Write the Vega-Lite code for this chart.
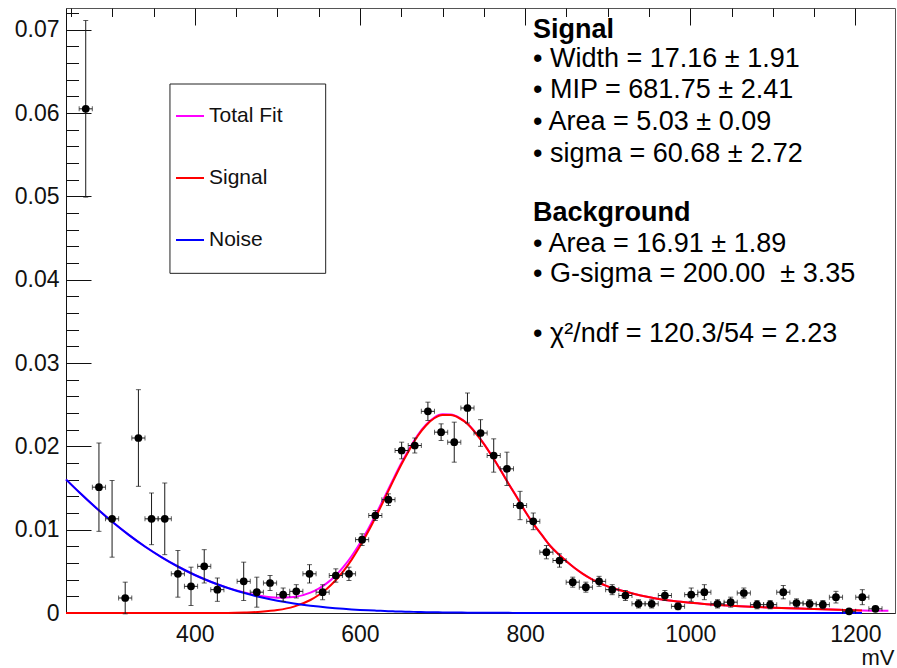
{
  "$schema": "https://vega.github.io/schema/vega-lite/v6.json",
  "width": 829,
  "height": 605,
  "autosize": {"type": "none"},
  "padding": {"left": 66, "top": 8, "right": 2, "bottom": 55},
  "background": "white",
  "config": {
    "font": "Liberation Sans",
    "view": {"stroke": "#555555", "strokeWidth": 1}
  },
  "datasets": {
    "hist": [
      {"x": 267.9, "y": 0.0605, "ey": 0.0106, "ex": 7.97},
      {"x": 283.9, "y": 0.0151, "ey": 0.0053, "ex": 7.97},
      {"x": 299.8, "y": 0.0113, "ey": 0.0046, "ex": 7.97},
      {"x": 315.7, "y": 0.0018, "ey": 0.0019, "ex": 7.97},
      {"x": 331.7, "y": 0.0210, "ey": 0.0058, "ex": 7.97},
      {"x": 347.6, "y": 0.0113, "ey": 0.0031, "ex": 7.97},
      {"x": 363.6, "y": 0.0113, "ey": 0.0043, "ex": 7.97},
      {"x": 379.5, "y": 0.0047, "ey": 0.0028, "ex": 7.97},
      {"x": 395.4, "y": 0.0032, "ey": 0.0023, "ex": 7.97},
      {"x": 411.4, "y": 0.0056, "ey": 0.0020, "ex": 7.97},
      {"x": 427.3, "y": 0.0028, "ey": 0.0014, "ex": 7.97},
      {"x": 459.2, "y": 0.0038, "ey": 0.0023, "ex": 7.97},
      {"x": 475.1, "y": 0.0025, "ey": 0.0018, "ex": 7.97},
      {"x": 491.1, "y": 0.0036, "ey": 0.0009, "ex": 7.97},
      {"x": 507.0, "y": 0.0022, "ey": 0.0008, "ex": 7.97},
      {"x": 522.9, "y": 0.0026, "ey": 0.0008, "ex": 7.97},
      {"x": 538.9, "y": 0.0047, "ey": 0.0011, "ex": 7.97},
      {"x": 554.8, "y": 0.0025, "ey": 0.0009, "ex": 7.97},
      {"x": 570.8, "y": 0.0045, "ey": 0.0008, "ex": 7.97},
      {"x": 586.7, "y": 0.0047, "ey": 0.0008, "ex": 7.97},
      {"x": 602.6, "y": 0.0088, "ey": 0.0007, "ex": 7.97},
      {"x": 618.6, "y": 0.0117, "ey": 0.0006, "ex": 7.97},
      {"x": 634.5, "y": 0.0136, "ey": 0.0007, "ex": 7.97},
      {"x": 650.5, "y": 0.0195, "ey": 0.0010, "ex": 7.97},
      {"x": 666.4, "y": 0.0201, "ey": 0.0009, "ex": 7.97},
      {"x": 682.3, "y": 0.0242, "ey": 0.0011, "ex": 7.97},
      {"x": 698.3, "y": 0.0217, "ey": 0.0010, "ex": 7.97},
      {"x": 714.2, "y": 0.0205, "ey": 0.0024, "ex": 7.97},
      {"x": 730.2, "y": 0.0246, "ey": 0.0018, "ex": 7.97},
      {"x": 746.1, "y": 0.0216, "ey": 0.0016, "ex": 7.97},
      {"x": 762.0, "y": 0.0189, "ey": 0.0020, "ex": 7.97},
      {"x": 778.0, "y": 0.0173, "ey": 0.0020, "ex": 7.97},
      {"x": 793.9, "y": 0.0129, "ey": 0.0017, "ex": 7.97},
      {"x": 809.9, "y": 0.0110, "ey": 0.0010, "ex": 7.97},
      {"x": 825.8, "y": 0.0073, "ey": 0.0008, "ex": 7.97},
      {"x": 841.7, "y": 0.0063, "ey": 0.0008, "ex": 7.97},
      {"x": 857.7, "y": 0.0037, "ey": 0.0006, "ex": 7.97},
      {"x": 873.6, "y": 0.0031, "ey": 0.0006, "ex": 7.97},
      {"x": 889.6, "y": 0.0038, "ey": 0.0006, "ex": 7.97},
      {"x": 905.5, "y": 0.0028, "ey": 0.0006, "ex": 7.97},
      {"x": 921.5, "y": 0.0021, "ey": 0.0006, "ex": 7.97},
      {"x": 937.4, "y": 0.0011, "ey": 0.0005, "ex": 7.97},
      {"x": 953.3, "y": 0.0011, "ey": 0.0005, "ex": 7.97},
      {"x": 969.3, "y": 0.0021, "ey": 0.0006, "ex": 7.97},
      {"x": 985.2, "y": 0.0008, "ey": 0.0004, "ex": 7.97},
      {"x": 1001.2, "y": 0.0022, "ey": 0.0008, "ex": 7.97},
      {"x": 1017.1, "y": 0.0025, "ey": 0.0009, "ex": 7.97},
      {"x": 1033.0, "y": 0.0011, "ey": 0.0005, "ex": 7.97},
      {"x": 1049.0, "y": 0.0013, "ey": 0.0006, "ex": 7.97},
      {"x": 1064.9, "y": 0.0024, "ey": 0.0006, "ex": 7.97},
      {"x": 1080.9, "y": 0.0010, "ey": 0.0005, "ex": 7.97},
      {"x": 1096.8, "y": 0.0010, "ey": 0.0005, "ex": 7.97},
      {"x": 1112.7, "y": 0.0025, "ey": 0.0008, "ex": 7.97},
      {"x": 1128.7, "y": 0.0012, "ey": 0.0005, "ex": 7.97},
      {"x": 1144.6, "y": 0.0011, "ey": 0.0005, "ex": 7.97},
      {"x": 1160.6, "y": 0.0010, "ey": 0.0005, "ex": 7.97},
      {"x": 1176.5, "y": 0.0019, "ey": 0.0007, "ex": 7.97},
      {"x": 1192.4, "y": 0.0002, "ey": 0.0002, "ex": 7.97},
      {"x": 1208.4, "y": 0.0019, "ey": 0.0009, "ex": 7.97},
      {"x": 1224.3, "y": 0.0005, "ey": 0.0003, "ex": 7.97}
    ],
    "fit": [
      {"x": 244, "signal": 0, "noise": 0.01603, "total": 0.01603},
      {"x": 260, "signal": 0, "noise": 0.01449, "total": 0.01449},
      {"x": 280, "signal": 0, "noise": 0.01266, "total": 0.01266},
      {"x": 300, "signal": 0, "noise": 0.01095, "total": 0.01095},
      {"x": 320, "signal": 0, "noise": 0.00938, "total": 0.00938},
      {"x": 340, "signal": 0, "noise": 0.00795, "total": 0.00795},
      {"x": 360, "signal": 0, "noise": 0.00668, "total": 0.00668},
      {"x": 380, "signal": 0, "noise": 0.00555, "total": 0.00555},
      {"x": 400, "signal": 0, "noise": 0.00456, "total": 0.00456},
      {"x": 420, "signal": 0, "noise": 0.00372, "total": 0.00372},
      {"x": 440, "signal": 0.00001, "noise": 0.00300, "total": 0.00301},
      {"x": 460, "signal": 0.00006, "noise": 0.00239, "total": 0.00245},
      {"x": 480, "signal": 0.00015, "noise": 0.00189, "total": 0.00204},
      {"x": 500, "signal": 0.00035, "noise": 0.00148, "total": 0.00183},
      {"x": 520, "signal": 0.00077, "noise": 0.00115, "total": 0.00192},
      {"x": 540, "signal": 0.00156, "noise": 0.00088, "total": 0.00244},
      {"x": 550, "signal": 0.00216, "noise": 0.00077, "total": 0.00293},
      {"x": 560, "signal": 0.00292, "noise": 0.00067, "total": 0.00359},
      {"x": 570, "signal": 0.00387, "noise": 0.00058, "total": 0.00445},
      {"x": 580, "signal": 0.00503, "noise": 0.00050, "total": 0.00553},
      {"x": 590, "signal": 0.00641, "noise": 0.00043, "total": 0.00684},
      {"x": 600, "signal": 0.00800, "noise": 0.00037, "total": 0.00837},
      {"x": 610, "signal": 0.00977, "noise": 0.00032, "total": 0.01009},
      {"x": 620, "signal": 0.01170, "noise": 0.00028, "total": 0.01198},
      {"x": 630, "signal": 0.01373, "noise": 0.00024, "total": 0.01397},
      {"x": 640, "signal": 0.01580, "noise": 0.00020, "total": 0.01600},
      {"x": 650, "signal": 0.01779, "noise": 0.00017, "total": 0.01796},
      {"x": 660, "signal": 0.01960, "noise": 0.00015, "total": 0.01975},
      {"x": 670, "signal": 0.02124, "noise": 0.00012, "total": 0.02136},
      {"x": 680, "signal": 0.02250, "noise": 0.00010, "total": 0.02260},
      {"x": 690, "signal": 0.02337, "noise": 0.00009, "total": 0.02346},
      {"x": 700, "signal": 0.02377, "noise": 0.00007, "total": 0.02384},
      {"x": 710, "signal": 0.02375, "noise": 0.00006, "total": 0.02381},
      {"x": 720, "signal": 0.02340, "noise": 0.00005, "total": 0.02345},
      {"x": 730, "signal": 0.02270, "noise": 0.00004, "total": 0.02274},
      {"x": 740, "signal": 0.02160, "noise": 0.00004, "total": 0.02164},
      {"x": 750, "signal": 0.02030, "noise": 0.00003, "total": 0.02033},
      {"x": 760, "signal": 0.01880, "noise": 0.00002, "total": 0.01882},
      {"x": 770, "signal": 0.01720, "noise": 0.00002, "total": 0.01722},
      {"x": 780, "signal": 0.01550, "noise": 0.00002, "total": 0.01552},
      {"x": 790, "signal": 0.01390, "noise": 0.00001, "total": 0.01391},
      {"x": 800, "signal": 0.01220, "noise": 0.00001, "total": 0.01221},
      {"x": 810, "signal": 0.01070, "noise": 0, "total": 0.01070},
      {"x": 820, "signal": 0.00940, "noise": 0, "total": 0.00940},
      {"x": 830, "signal": 0.00810, "noise": 0, "total": 0.00810},
      {"x": 840, "signal": 0.00710, "noise": 0, "total": 0.00710},
      {"x": 850, "signal": 0.00620, "noise": 0, "total": 0.00620},
      {"x": 860, "signal": 0.00540, "noise": 0, "total": 0.00540},
      {"x": 870, "signal": 0.00470, "noise": 0, "total": 0.00470},
      {"x": 880, "signal": 0.00410, "noise": 0, "total": 0.00410},
      {"x": 890, "signal": 0.00360, "noise": 0, "total": 0.00360},
      {"x": 900, "signal": 0.00320, "noise": 0, "total": 0.00320},
      {"x": 920, "signal": 0.00260, "noise": 0, "total": 0.00260},
      {"x": 940, "signal": 0.00210, "noise": 0, "total": 0.00210},
      {"x": 960, "signal": 0.00172, "noise": 0, "total": 0.00172},
      {"x": 980, "signal": 0.00143, "noise": 0, "total": 0.00143},
      {"x": 1000, "signal": 0.00122, "noise": 0, "total": 0.00122},
      {"x": 1020, "signal": 0.00106, "noise": 0, "total": 0.00106},
      {"x": 1040, "signal": 0.00093, "noise": 0, "total": 0.00093},
      {"x": 1060, "signal": 0.00082, "noise": 0, "total": 0.00082},
      {"x": 1080, "signal": 0.00072, "noise": 0, "total": 0.00072},
      {"x": 1100, "signal": 0.00064, "noise": 0, "total": 0.00064},
      {"x": 1120, "signal": 0.00057, "noise": 0, "total": 0.00057},
      {"x": 1140, "signal": 0.00050, "noise": 0, "total": 0.00050},
      {"x": 1160, "signal": 0.00044, "noise": 0, "total": 0.00044},
      {"x": 1180, "signal": 0.00038, "noise": 0, "total": 0.00038},
      {"x": 1200, "signal": 0.00032, "noise": 0, "total": 0.00032},
      {"x": 1208, "signal": 0.00030, "noise": 0, "total": 0.00030},
      {"x": 1220, "signal": null, "noise": null, "total": 0.00028},
      {"x": 1240, "signal": null, "noise": null, "total": 0.00026}
    ]
  },
  "layer": [
    {
      "data": {"values": [{}]},
      "mark": {"type": "rect", "fill": "white", "stroke": "#222222", "strokeWidth": 1},
      "encoding": {
        "x": {"datum": 369.9, "type": "quantitative"},
        "x2": {"datum": 558.5},
        "y": {"datum": 0.06348, "type": "quantitative"},
        "y2": {"datum": 0.04076}
      }
    },
    {
      "data": {"name": "fit"},
      "mark": {"type": "line", "strokeWidth": 2, "interpolate": "monotone"},
      "encoding": {
        "x": {
          "field": "x", "type": "quantitative", "title": "mV",
          "scale": {"domain": [244, 1248], "nice": false, "zero": false},
          "axis": {
            "values": [250, 300, 350, 400, 450, 500, 550, 600, 650, 700, 750, 800, 850, 900, 950, 1000, 1050, 1100, 1150, 1200],
            "tickCount": 200,
            "ticks": false,
            "domain": true, "domainColor": "#222222", "domainWidth": 1,
            "grid": true, "gridColor": "#111111", "gridWidth": 1, "gridOpacity": 1,
            "gridDash": {"condition": {"test": "datum.value % 200 == 0", "value": [17, 3000]}, "value": [8.5, 3000]},
            "labelExpr": "datum.value % 200 == 0 ? format(datum.value, 'd') : ''",
            "labelFont": "Liberation Sans", "labelFontSize": 23, "labelColor": "#111111",
            "labelPadding": 10, "labelOverlap": false, "labelFlush": false, "labelBound": false,
            "titleFont": "Liberation Sans", "titleFontSize": 22, "titleFontWeight": "normal", "titleColor": "#111111",
            "titleAnchor": "end", "titleAlign": "right", "titleBaseline": "alphabetic", "titleX": 828, "titleY": 51
          }
        },
        "y": {
          "field": "total", "type": "quantitative", "title": null,
          "scale": {"domain": [0, 0.0726], "nice": false, "zero": true},
          "axis": {
            "values": [0, 0.002, 0.004, 0.006, 0.008, 0.01, 0.012, 0.014, 0.016, 0.018, 0.02, 0.022, 0.024, 0.026, 0.028, 0.03, 0.032, 0.034, 0.036, 0.038, 0.04, 0.042, 0.044, 0.046, 0.048, 0.05, 0.052, 0.054, 0.056, 0.058, 0.06, 0.062, 0.064, 0.066, 0.068, 0.07, 0.072],
            "tickCount": 200,
            "ticks": false,
            "domain": true, "domainColor": "#111111", "domainWidth": 1,
            "grid": true, "gridColor": "#111111", "gridWidth": 1, "gridOpacity": 1,
            "gridDash": {"condition": {"test": "abs(datum.value * 100 - round(datum.value * 100)) < 0.000001", "value": [25, 3000]}, "value": [12.5, 3000]},
            "labelExpr": "abs(datum.value * 100 - round(datum.value * 100)) < 0.000001 ? (datum.value == 0 ? '0' : format(datum.value, '.2f')) : ''",
            "labelFont": "Liberation Sans", "labelFontSize": 23, "labelColor": "#111111",
            "labelPadding": 7, "labelOverlap": false, "labelFlush": false, "labelBound": false
          }
        },
        "color": {
          "datum": "Total Fit", "type": "nominal",
          "scale": {"domain": ["Total Fit", "Signal", "Noise"], "range": ["#ff00ff", "#ff0000", "#0000ff"]},
          "legend": {
            "orient": "none", "legendX": 104, "legendY": 76, "title": null,
            "padding": 17,
            "symbolType": "stroke", "symbolSize": 784, "symbolStrokeWidth": 2, "symbolOffset": -12,
            "labelOffset": 4, "rowPadding": 37,
            "labelFont": "Liberation Sans", "labelFontSize": 21, "labelColor": "#111111", "labelLimit": 400
          }
        }
      }
    },
    {
      "data": {"name": "fit"},
      "mark": {"type": "line", "strokeWidth": 2, "interpolate": "monotone"},
      "encoding": {
        "x": {"field": "x", "type": "quantitative", "title": "mV"},
        "y": {"field": "signal", "type": "quantitative", "title": null},
        "color": {"datum": "Signal", "type": "nominal"}
      }
    },
    {
      "data": {"name": "fit"},
      "mark": {"type": "line", "strokeWidth": 2, "interpolate": "monotone"},
      "encoding": {
        "x": {"field": "x", "type": "quantitative", "title": "mV"},
        "y": {"field": "noise", "type": "quantitative", "title": null},
        "color": {"datum": "Noise", "type": "nominal"}
      }
    },
    {
      "data": {"name": "hist"},
      "mark": {"type": "errorbar", "ticks": true, "size": 5, "thickness": 1, "color": "#1a1a1a"},
      "encoding": {
        "x": {"field": "x", "type": "quantitative", "title": "mV"},
        "y": {"field": "y", "type": "quantitative", "title": null},
        "yError": {"field": "ey"}
      }
    },
    {
      "data": {"name": "hist"},
      "mark": {"type": "errorbar", "ticks": true, "size": 5, "thickness": 1, "color": "#1a1a1a"},
      "encoding": {
        "x": {"field": "x", "type": "quantitative", "title": "mV"},
        "xError": {"field": "ex"},
        "y": {"field": "y", "type": "quantitative", "title": null}
      }
    },
    {
      "data": {"name": "hist"},
      "mark": {"type": "point", "filled": true, "color": "#000000", "size": 60, "opacity": 1},
      "encoding": {
        "x": {"field": "x", "type": "quantitative", "title": "mV"},
        "y": {"field": "y", "type": "quantitative", "title": null}
      }
    },
    {
      "data": {"values": [{}]},
      "mark": {"type": "text", "align": "left", "baseline": "alphabetic", "font": "Liberation Sans", "fontSize": 27, "fontWeight": "bold", "color": "#000000"},
      "encoding": {
        "x": {"datum": 809.6, "type": "quantitative"},
        "y": {"datum": 0.06904, "type": "quantitative"},
        "text": {"value": "Signal"}
      }
    },
    {
      "data": {"values": [{}]},
      "mark": {"type": "text", "align": "left", "baseline": "alphabetic", "font": "Liberation Sans", "fontSize": 27, "lineHeight": 31.7, "color": "#000000"},
      "encoding": {
        "x": {"datum": 809.6, "type": "quantitative"},
        "y": {"datum": 0.06556, "type": "quantitative"},
        "text": {"value": ["• Width = 17.16 ± 1.91", "• MIP = 681.75 ± 2.41", "• Area = 5.03 ± 0.09", "• sigma = 60.68 ± 2.72"]}
      }
    },
    {
      "data": {"values": [{}]},
      "mark": {"type": "text", "align": "left", "baseline": "alphabetic", "font": "Liberation Sans", "fontSize": 27, "fontWeight": "bold", "color": "#000000"},
      "encoding": {
        "x": {"datum": 809.6, "type": "quantitative"},
        "y": {"datum": 0.04708, "type": "quantitative"},
        "text": {"value": "Background"}
      }
    },
    {
      "data": {"values": [{}]},
      "mark": {"type": "text", "align": "left", "baseline": "alphabetic", "font": "Liberation Sans", "fontSize": 27, "lineHeight": 30, "color": "#000000"},
      "encoding": {
        "x": {"datum": 809.6, "type": "quantitative"},
        "y": {"datum": 0.04336, "type": "quantitative"},
        "text": {"value": ["• Area = 16.91 ± 1.89", "• G-sigma = 200.00\u00a0 ± 3.35"]}
      }
    },
    {
      "data": {"values": [{}]},
      "mark": {"type": "text", "align": "left", "baseline": "alphabetic", "font": "Liberation Sans", "fontSize": 27, "color": "#000000"},
      "encoding": {
        "x": {"datum": 809.6, "type": "quantitative"},
        "y": {"datum": 0.03256, "type": "quantitative"},
        "text": {"value": "• χ²/ndf = 120.3/54 = 2.23"}
      }
    }
  ]
}
